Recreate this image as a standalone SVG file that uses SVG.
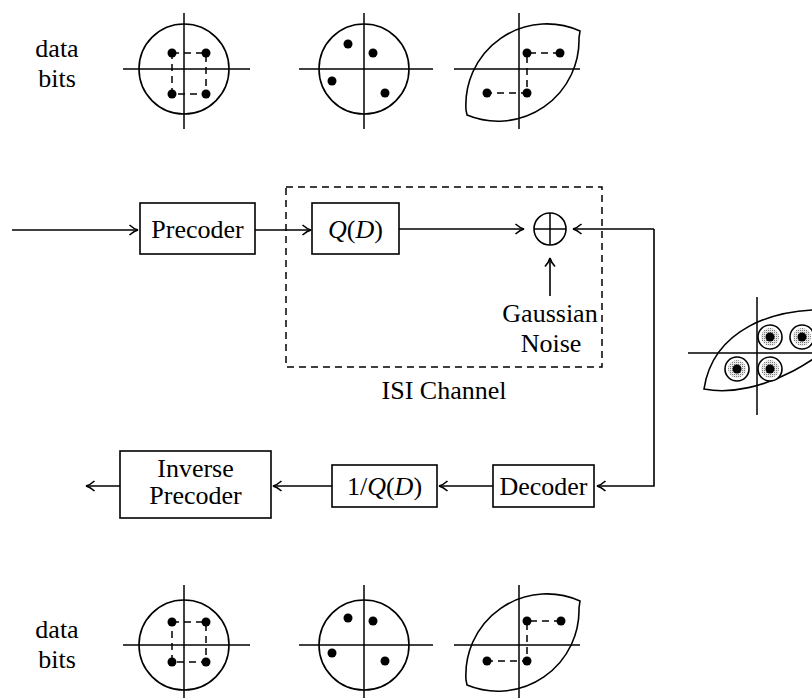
<svg xmlns="http://www.w3.org/2000/svg" width="812" height="698" viewBox="0 0 812 698">
<defs>
<style>
.ln{stroke:#000;stroke-width:1.6;fill:none}
.ax{stroke:#000;stroke-width:1.5}
.box{fill:#fff;stroke:#000;stroke-width:1.6}
.dash{stroke:#000;stroke-width:1.5;stroke-dasharray:7 5;fill:none}
.dot{fill:#000}
.ring{fill:#fff;stroke:#000;stroke-width:1.6}
.shade{fill:url(#stip)}
.t{font-family:"Liberation Serif","DejaVu Serif",serif;font-size:26px;fill:#000;text-anchor:middle}
.it{font-style:italic}
.con{stroke:#000;stroke-width:1.6;fill:none;marker-end:url(#arr)}
</style>
<pattern id="stip" width="2" height="2" patternUnits="userSpaceOnUse">
<rect width="2" height="2" fill="#e6e6e6"/>
<rect width="1" height="1" fill="#7a7a7a"/>
</pattern>
<marker id="arr" viewBox="-10 -6 12 12" refX="0" refY="0" markerWidth="12" markerHeight="12" markerUnits="userSpaceOnUse" orient="auto">
<path d="M-8.5,-5 Q-4,-1 0,0 Q-4,1 -8.5,5" fill="none" stroke="#000" stroke-width="1.6"/>
</marker>
</defs>
<rect width="812" height="698" fill="#fff"/>

<g id="label-top">
<text class="t" x="57" y="57">data</text>
<text class="t" x="57" y="87">bits</text>
</g>

<g id="top-const-1">
<circle cx="184" cy="69" r="45" class="ln"/>
<line x1="123" y1="69" x2="250" y2="69" class="ax"/>
<line x1="184" y1="13" x2="184" y2="129" class="ax"/>
<path d="M172,53 H206 V94 H172 Z" class="dash"/>
<circle cx="172" cy="53" r="4.5" class="dot"/>
<circle cx="206" cy="53" r="4.5" class="dot"/>
<circle cx="172" cy="94" r="4.5" class="dot"/>
<circle cx="206" cy="94" r="4.5" class="dot"/>
</g>

<g id="top-const-2">
<circle cx="364" cy="69" r="45" class="ln"/>
<line x1="299" y1="69" x2="433" y2="69" class="ax"/>
<line x1="364" y1="13" x2="364" y2="129" class="ax"/>
<circle cx="348" cy="44" r="4.5" class="dot"/>
<circle cx="373" cy="53" r="4.5" class="dot"/>
<circle cx="332" cy="81" r="4.5" class="dot"/>
<circle cx="385" cy="93" r="4.5" class="dot"/>
</g>

<g id="top-const-3">
<path d="M466,110 A81,81 0 0 1 580,31 L579,38 A81,81 0 0 1 467,115 Z" class="ln"/>
<line x1="454" y1="69" x2="580" y2="69" class="ax"/>
<line x1="519" y1="13" x2="519" y2="129" class="ax"/>
<path d="M560,53 H527 V93 H487" class="dash"/>
<circle cx="527" cy="53" r="4.5" class="dot"/>
<circle cx="560" cy="53" r="4.5" class="dot"/>
<circle cx="487" cy="93" r="4.5" class="dot"/>
<circle cx="527" cy="93" r="4.5" class="dot"/>
</g>

<g id="isi-channel">
<rect x="286" y="187" width="316" height="180" class="dash"/>
<text class="t" x="444" y="399">ISI Channel</text>
</g>

<g id="connectors">
<path d="M12,230 H138" class="con"/>
<path d="M255,230 H311" class="con"/>
<path d="M399,229 H524" class="con"/>
<path d="M550,296 V258" class="con"/>
<path d="M654,229 H573" class="con"/>
<path d="M654,229 V486 H597" class="con"/>
<path d="M493,486 H439" class="con"/>
<path d="M332,486 H273" class="con"/>
<path d="M120,486 H86" class="con"/>
</g>

<g id="precoder">
<rect x="140" y="203" width="115" height="51" class="box"/>
<text class="t" x="197.5" y="238">Precoder</text>
</g>

<g id="qd">
<rect x="312" y="203" width="87" height="51" class="box"/>
<text class="t" x="355.5" y="238"><tspan class="it">Q</tspan>(<tspan class="it">D</tspan>)</text>
</g>

<g id="adder">
<circle cx="550" cy="229" r="16" class="ln"/>
<line x1="534" y1="229" x2="566" y2="229" class="ax"/>
<line x1="550" y1="213" x2="550" y2="245" class="ax"/>
</g>

<g id="noise">
<text class="t" x="550" y="322">Gaussian</text>
<text class="t" x="551" y="352">Noise</text>
</g>

<g id="decoder">
<rect x="493" y="465" width="101" height="42" class="box"/>
<text class="t" x="543.5" y="495">Decoder</text>
</g>

<g id="inv-qd">
<rect x="332" y="465" width="105" height="42" class="box"/>
<text class="t" x="384.5" y="495">1/<tspan class="it">Q</tspan>(<tspan class="it">D</tspan>)</text>
</g>

<g id="inv-precoder">
<rect x="120" y="451" width="151" height="67" class="box"/>
<text class="t" x="195.5" y="477">Inverse</text>
<text class="t" x="195.5" y="504">Precoder</text>
</g>

<g id="right-const">
<line x1="688" y1="353" x2="812" y2="353" class="ax"/>
<line x1="757" y1="297" x2="757" y2="415" class="ax"/>
<path d="M704,389 C712,336 765,300 860,312 C835,355 760,400 704,389 Z" class="ln"/>
<circle cx="770" cy="337" r="12" class="ring"/>
<circle cx="770" cy="337" r="9" class="shade"/>
<circle cx="770" cy="337" r="4.5" class="dot"/>
<circle cx="802" cy="337" r="12" class="ring"/>
<circle cx="802" cy="337" r="9" class="shade"/>
<circle cx="802" cy="337" r="4.5" class="dot"/>
<circle cx="737" cy="369" r="12" class="ring"/>
<circle cx="737" cy="369" r="9" class="shade"/>
<circle cx="737" cy="369" r="4.5" class="dot"/>
<circle cx="770" cy="369" r="12" class="ring"/>
<circle cx="770" cy="369" r="9" class="shade"/>
<circle cx="770" cy="369" r="4.5" class="dot"/>
</g>

<g id="label-bottom">
<text class="t" x="57" y="638">data</text>
<text class="t" x="57" y="668">bits</text>
</g>

<g id="bottom-const-1">
<circle cx="184" cy="645" r="45" class="ln"/>
<line x1="123" y1="645" x2="250" y2="645" class="ax"/>
<line x1="184" y1="585" x2="184" y2="698" class="ax"/>
<path d="M172,622 H206 V662 H172 Z" class="dash"/>
<circle cx="172" cy="622" r="4.5" class="dot"/>
<circle cx="206" cy="622" r="4.5" class="dot"/>
<circle cx="172" cy="662" r="4.5" class="dot"/>
<circle cx="206" cy="662" r="4.5" class="dot"/>
</g>

<g id="bottom-const-2">
<circle cx="364" cy="645" r="45" class="ln"/>
<line x1="299" y1="645" x2="433" y2="645" class="ax"/>
<line x1="364" y1="585" x2="364" y2="698" class="ax"/>
<circle cx="348" cy="618" r="4.5" class="dot"/>
<circle cx="373" cy="621" r="4.5" class="dot"/>
<circle cx="332" cy="653" r="4.5" class="dot"/>
<circle cx="385" cy="661" r="4.5" class="dot"/>
</g>

<g id="bottom-const-3">
<path d="M466,680 A81,81 0 0 1 580,601 L579,608 A81,81 0 0 1 467,685 Z" class="ln"/>
<line x1="454" y1="645" x2="580" y2="645" class="ax"/>
<line x1="519" y1="585" x2="519" y2="698" class="ax"/>
<path d="M561,621 H527 V661 H487" class="dash"/>
<circle cx="527" cy="621" r="4.5" class="dot"/>
<circle cx="561" cy="621" r="4.5" class="dot"/>
<circle cx="487" cy="661" r="4.5" class="dot"/>
<circle cx="527" cy="661" r="4.5" class="dot"/>
</g>
</svg>
